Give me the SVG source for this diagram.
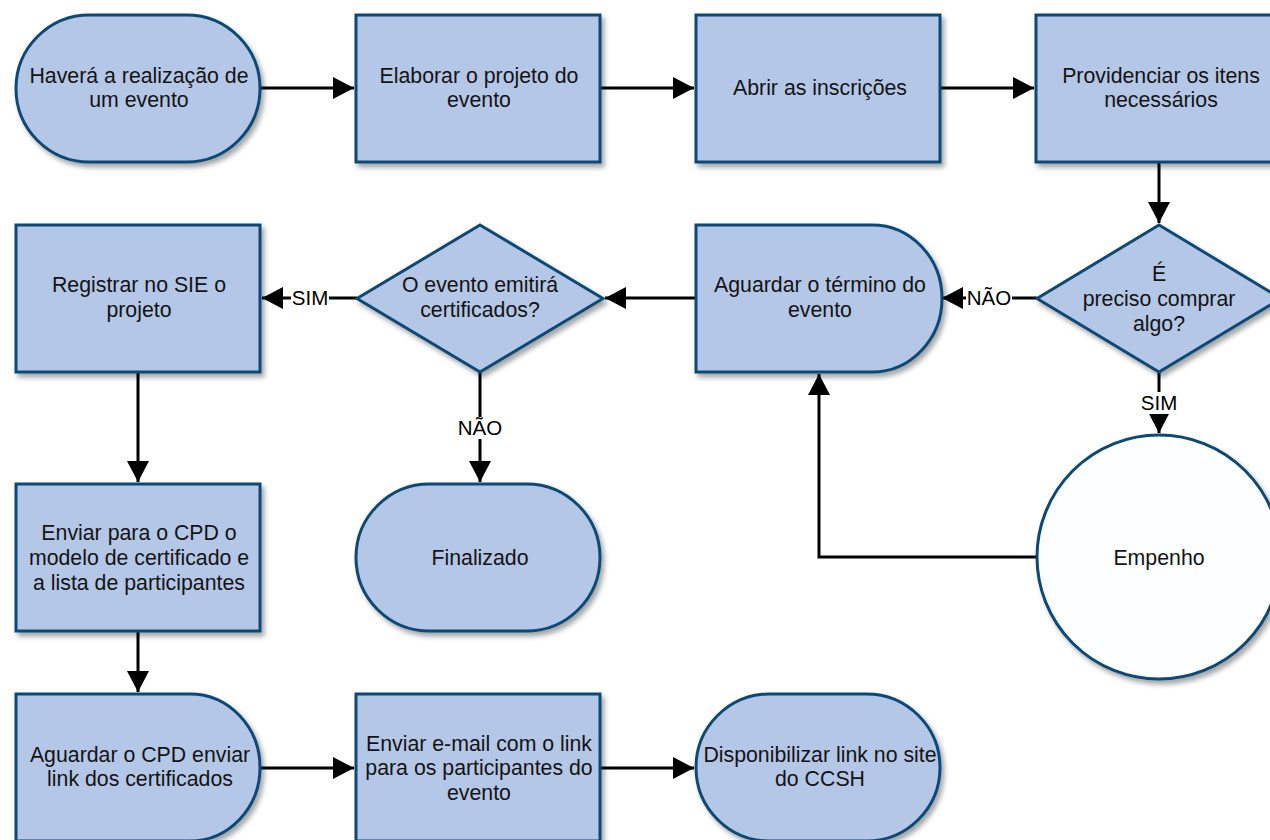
<svg xmlns="http://www.w3.org/2000/svg" width="1270" height="840" viewBox="0 0 1270 840">
<defs>
<filter id="sh" x="-10%" y="-10%" width="130%" height="130%">
<feDropShadow dx="3" dy="4" stdDeviation="2.5" flood-color="#000" flood-opacity="0.35"/>
</filter>
<marker id="ar" markerUnits="userSpaceOnUse" markerWidth="22" markerHeight="22" refX="21" refY="11" orient="auto">
<path d="M0,0 L21,11 L0,22 z" fill="#000"/>
</marker>
</defs>
<style>
.n{fill:#b4c7e7;stroke:#0d4a77;stroke-width:3;filter:url(#sh)}
.w{fill:#fdfeff;stroke:#0d4a77;stroke-width:3;filter:url(#sh)}
.t{font-family:"Liberation Sans",Arial,sans-serif;font-size:21.3px;fill:#141414;text-anchor:middle}
.l{font-family:"Liberation Sans",Arial,sans-serif;font-size:20.5px;fill:#000;text-anchor:middle}
.c{fill:none;stroke:#000;stroke-width:3;marker-end:url(#ar)}
</style>
<rect width="1270" height="840" fill="#fff"/>

<g id="connectors">
<path class="c" d="M260,88 H354"/>
<path class="c" d="M600,88 H694"/>
<path class="c" d="M940,88 H1034"/>
<path class="c" d="M1159,162 V223"/>
<path class="c" d="M1037,298 H942"/>
<path class="c" d="M1159,372 V433"/>
<path class="c" d="M1036,557 H819 V374"/>
<path class="c" d="M696,298 H605"/>
<path class="c" d="M357,298 H262"/>
<path class="c" d="M480,372 V482"/>
<path class="c" d="M138,372 V482"/>
<path class="c" d="M138,631 V692"/>
<path class="c" d="M260,768 H354"/>
<path class="c" d="M600,768 H694"/>
<rect x="966" y="287" width="46" height="22" fill="#fff"/>
<text class="l" x="989" y="305">NÃO</text>
<rect x="1140" y="392" width="38" height="22" fill="#fff"/>
<text class="l" x="1159" y="410">SIM</text>
<rect x="291" y="287" width="38" height="22" fill="#fff"/>
<text class="l" x="310" y="305">SIM</text>
<rect x="457" y="417" width="46" height="22" fill="#fff"/>
<text class="l" x="480" y="435">NÃO</text>
</g>

<g id="n1">
<rect class="n" x="16" y="15" width="244" height="147" rx="73.5" ry="73.5"/>
<text class="t" x="139" y="83">Haverá a realização de</text>
<text class="t" x="139" y="107">um evento</text>
</g>
<g id="n2">
<rect class="n" x="356" y="15" width="244" height="147"/>
<text class="t" x="479" y="83">Elaborar o projeto do</text>
<text class="t" x="479" y="107">evento</text>
</g>
<g id="n3">
<rect class="n" x="696" y="15" width="244" height="147"/>
<text class="t" x="820" y="95">Abrir as inscrições</text>
</g>
<g id="n4">
<rect class="n" x="1036" y="15" width="244" height="147"/>
<text class="t" x="1161" y="83">Providenciar os itens</text>
<text class="t" x="1161" y="107">necessários</text>
</g>
<g id="d1">
<polygon class="n" points="1159,225 1281,298.5 1159,372 1037,298.5"/>
<text class="t" x="1159" y="281">É</text>
<text class="t" x="1159" y="306">preciso comprar</text>
<text class="t" x="1159" y="331">algo?</text>
</g>
<g id="n5">
<path class="n" d="M696,225 H872 A70,73.5 0 0 1 872,372 H696 Z"/>
<text class="t" x="820" y="292">Aguardar o término do</text>
<text class="t" x="820" y="317">evento</text>
</g>
<g id="d2">
<polygon class="n" points="480,225 603,298.5 480,372 357,298.5"/>
<text class="t" x="480" y="292">O evento emitirá</text>
<text class="t" x="480" y="317">certificados?</text>
</g>
<g id="n6">
<rect class="n" x="16" y="225" width="244" height="147"/>
<text class="t" x="139" y="292">Registrar no SIE o</text>
<text class="t" x="139" y="317">projeto</text>
</g>
<g id="n7">
<circle class="w" cx="1159" cy="557" r="122"/>
<text class="t" x="1159" y="565">Empenho</text>
</g>
<g id="n8">
<rect class="n" x="356" y="484" width="244" height="147" rx="73.5" ry="73.5"/>
<text class="t" x="480" y="565">Finalizado</text>
</g>
<g id="n9">
<rect class="n" x="16" y="484" width="244" height="147"/>
<text class="t" x="139" y="540">Enviar para o CPD o</text>
<text class="t" x="139" y="565">modelo de certificado e</text>
<text class="t" x="139" y="590">a lista de participantes</text>
</g>
<g id="n10">
<path class="n" d="M16,694 H190 A70,73.5 0 0 1 190,841 H16 Z"/>
<text class="t" x="140" y="762">Aguardar o CPD enviar</text>
<text class="t" x="140" y="786">link dos certificados</text>
</g>
<g id="n11">
<rect class="n" x="356" y="694" width="244" height="147"/>
<text class="t" x="479" y="751">Enviar e-mail com o link</text>
<text class="t" x="479" y="775">para os participantes do</text>
<text class="t" x="479" y="800">evento</text>
</g>
<g id="n12">
<rect class="n" x="696" y="694" width="244" height="147" rx="73.5" ry="73.5"/>
<text class="t" x="820" y="762">Disponibilizar link no site</text>
<text class="t" x="820" y="786">do CCSH</text>
</g>
</svg>
